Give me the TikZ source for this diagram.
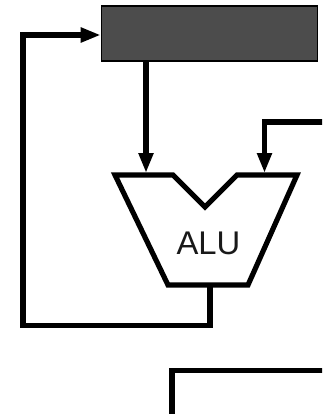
\documentclass[tikz,border=0pt]{standalone}
\usepackage{fontspec}
\setmainfont{Liberation Sans}
\usepackage{tikz}
\usetikzlibrary{arrows.meta, positioning, calc}

\begin{document}
\begin{tikzpicture}[
    x=0.03cm, y=-0.03cm,
    wire/.style={line width=4.4pt, line join=miter},
    regbox/.style={rectangle, draw=black, line width=1.3pt, fill=black!70, minimum width=6.48cm, minimum height=1.65cm, inner sep=0pt},
    alushape/.style={line width=4.4pt, line join=miter, fill=white},
    alulabel/.style={font=\fontsize{28}{30}\selectfont, text=black!90, inner sep=0pt}
]
    \clip (0,0) rectangle (322,414);
    % register block
    \node (regfile) [regbox] at (209.5,33.5) {};
    % ALU body
    \draw[alushape] (115,175) -- (173,175) -- (205,207) -- (237,175) -- (297,175) -- (248,285) -- (168,285) -- cycle;
    \node (alu) [alulabel] at (208.5,243) {ALU};
    \coordinate (ina) at (146,173);
    \coordinate (inb) at (264.5,173);
    \coordinate (aluout) at (210,287);
    \coordinate (loop) at (23,325.5);

    \draw[wire, -{Triangle[length=0.6cm, width=0.42cm]}] (regfile.south -| ina) -- (ina);
    \draw[wire, -{Triangle[length=0.6cm, width=0.42cm]}] (330,122) -| (inb);
    \draw[wire, -{Triangle[length=0.6cm, width=0.42cm]}] (aluout) |- (loop) |- ($(regfile.west)+(0,1.5)$);
    % next block below
    \draw[wire] (330,370.5) -| (172,420);
\end{tikzpicture}
\end{document}
